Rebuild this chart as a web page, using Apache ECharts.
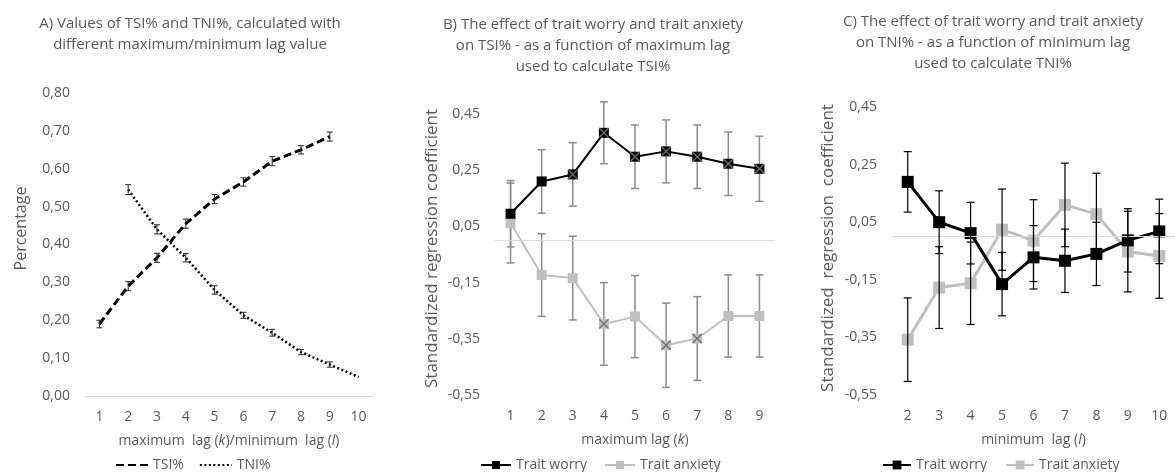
<!DOCTYPE html>
<html><head><meta charset="utf-8">
<script src="https://cdn.jsdelivr.net/npm/echarts/dist/echarts.min.js"></script>
<style>html,body{margin:0;padding:0;background:#fff}#c{width:1175px;height:472px}</style>
</head><body><div id="c"></div>
<script>
// ---- Panel A data ----
const catsA = ['1','2','3','4','5','6','7','8','9','10'];
const tsi    = [0.19, 0.29, 0.365, 0.455, 0.52, 0.565, 0.62, 0.65, 0.685, null];
const tsiErr = [0.010, 0.012, 0.012, 0.012, 0.012, 0.011, 0.012, 0.011, 0.012, null];
const tni    = [null, 0.545, 0.44, 0.365, 0.28, 0.213, 0.167, 0.116, 0.083, 0.05];
const tniErr = [null, 0.013, 0.012, 0.011, 0.011, 0.008, 0.009, 0.007, 0.007, null];
const ticksA = {min: 0, max: 0.8, interval: 0.1};

// ---- Panel B data ----
const catsB = ['1','2','3','4','5','6','7','8','9'];
const worryB    = [0.095, 0.21, 0.235, 0.383, 0.298, 0.317, 0.298, 0.273, 0.255];
const worryBErr = [0.118, 0.113, 0.113, 0.11, 0.113, 0.112, 0.113, 0.113, 0.116];
const anxB      = [0.062, -0.123, -0.134, -0.297, -0.271, -0.373, -0.349, -0.269, -0.269];
const anxBErr   = [0.142, 0.147, 0.149, 0.147, 0.146, 0.15, 0.149, 0.146, 0.146];
const markB_worry = [0,0,1,1,1,1,1,1,1];
const markB_anx   = [0,0,0,1,0,1,1,0,0];

// ---- Panel C data ----
const catsC = ['2','3','4','5','6','7','8','9','10'];
const worryC    = [0.19, 0.05, 0.012, -0.165, -0.072, -0.084, -0.06, -0.013, 0.018];
const worryCErr = [0.105, 0.109, 0.107, 0.11, 0.11, 0.11, 0.11, 0.11, 0.112];
const anxC      = [-0.358, -0.177, -0.162, 0.024, -0.014, 0.11, 0.078, -0.052, -0.067];
const anxCErr   = [0.145, 0.142, 0.143, 0.141, 0.142, 0.145, 0.142, 0.14, 0.147];
const ticksBC = {min: -0.55, max: 0.45, interval: 0.2};

const FONT = 'Open Sans';
const GREY = '#595959';
const fmt = v => v.toFixed(2).replace('.', ',');

function errData(vals, errs){
  const out = [];
  vals.forEach((v,i)=>{ if(v!=null && errs[i]!=null) out.push([i, v-errs[i], v+errs[i]]); });
  return out;
}
function markData(vals, flags){
  return vals.map((v,i)=> flags[i] ? [i, v] : [i, null]);
}
function errItem(color, capW, lw){
  return function(params, api){
    const x = api.value(0), lo = api.value(1), hi = api.value(2);
    const p1 = api.coord([x, hi]), p2 = api.coord([x, lo]);
    const st = {stroke: color, lineWidth: lw, fill: null};
    return {type:'group', children:[
      {type:'line', shape:{x1:p1[0],y1:p1[1],x2:p2[0],y2:p2[1]}, style:st},
      {type:'line', shape:{x1:p1[0]-capW,y1:p1[1],x2:p1[0]+capW,y2:p1[1]}, style:st},
      {type:'line', shape:{x1:p2[0]-capW,y1:p2[1],x2:p2[0]+capW,y2:p2[1]}, style:st}
    ]};
  };
}
const tickLabel = {color: GREY, fontFamily: FONT, fontSize: 14};
const nameRich = {
  n: {color: GREY, fontFamily: FONT, fontSize: 14},
  i: {color: GREY, fontFamily: FONT, fontSize: 14, fontStyle: 'italic'}
};
function xCat(gi, data, name, showLine){
  return {type:'category', gridIndex: gi, data: data, boundaryGap: true,
    axisTick:{show:false}, axisLine:{show: showLine, lineStyle:{color:'#d9d9d9'}},
    axisLabel: Object.assign({margin: 14}, tickLabel),
    name: name, nameLocation:'middle', nameGap: 38,
    nameTextStyle:{rich: nameRich}};
}
function yVal(gi, t, name, fs, pad, gap){
  return {type:'value', gridIndex: gi, min: t.min, max: t.max, interval: t.interval,
    splitLine:{show:false}, axisLine:{show:false}, axisTick:{show:false},
    axisLabel: Object.assign({formatter: fmt, margin: 15}, tickLabel),
    name: name, nameLocation:'middle', nameGap: gap,
    nameTextStyle:{color: GREY, fontFamily: FONT, fontSize: fs, padding: pad}};
}
const zeroLine = {silent:true, symbol:['none','none'], label:{show:false},
  lineStyle:{color:'#d9d9d9', type:'solid', width:1}, data:[{yAxis:0}]};
const xPath = 'path://M0,0L10,10M10,0L0,10';

const titleStyle = {color: GREY, fontFamily: FONT, fontSize: 15, fontWeight: 'normal', lineHeight: 21};
const legendText = {color: GREY, fontFamily: FONT, fontSize: 14};

const option = {
  animation: false,
  backgroundColor: '#fff',
  title: [
    {text: 'A) Values of TSI% and TNI%, calculated with\ndifferent maximum/minimum lag value', left: 185, top: 8, textAlign:'center', textStyle: titleStyle},
    {text: 'B) The effect of trait worry and trait anxiety\non TSI% - as a function of maximum lag\nused to calculate TSI%', left: 588, top: 9, textAlign:'center', textStyle: titleStyle},
    {text: 'C) The effect of trait worry and trait anxiety\non TNI% - as a function of minimum lag\nused to calculate TNI%', left: 988, top: 6, textAlign:'center', textStyle: titleStyle}
  ],
  legend: [
    {data:['TSI%','TNI%'], left: 110, top: 453, itemWidth: 32, itemHeight: 12, itemGap: 15, textStyle: legendText,
      itemStyle:{color:'transparent', borderWidth:0, opacity:0}},
    {data:['Trait worry','Trait anxiety'], left: 475, top: 453, itemWidth: 30, itemHeight: 10, itemGap: 17, textStyle: legendText},
    {data:['Trait worry ','Trait anxiety '], left: 877, top: 453, itemWidth: 28, itemHeight: 11, itemGap: 18, textStyle: legendText,
      formatter: n => n.trim()}
  ],
  grid: [
    {left: 85, top: 93, width: 288, height: 303},
    {left: 495, top: 114, width: 280, height: 281},
    {left: 892, top: 107, width: 283, height: 288}
  ],
  xAxis: [
    xCat(0, catsA, '{n|maximum  lag (}{i|k}{n|)/minimum  lag (}{i|l}{n|)}', true),
    xCat(1, catsB, '{n|maximum lag (}{i|k}{n|)}', false),
    xCat(2, catsC, '{n|minimum  lag (}{i|l}{n|)}', false)
  ],
  yAxis: [
    yVal(0, ticksA, 'Percentage', 16, [0,0,0,32], 56),
    yVal(1, ticksBC, 'Standardized regression coefficient', 17, [0,0,0,12], 54),
    yVal(2, ticksBC, 'Standardized  regression  coefficient', 17, [0,0,0,6], 55)
  ],
  series: [
    // Panel A
    {name:'errA1', type:'custom', xAxisIndex:0, yAxisIndex:0, renderItem: errItem('#262626', 3, 1), data: errData(tsi, tsiErr), z: 4},
    {name:'errA2', type:'custom', xAxisIndex:0, yAxisIndex:0, renderItem: errItem('#262626', 3, 1), data: errData(tni, tniErr), z: 4},
    {name:'TSI%', type:'line', xAxisIndex:0, yAxisIndex:0, data: tsi, symbol:'none', color:'#000',
      lineStyle:{color:'#000', width:3, type:[8,4]}, z: 3},
    {name:'TNI%', type:'line', xAxisIndex:0, yAxisIndex:0, data: tni, symbol:'none', color:'#000',
      lineStyle:{color:'#000', width:2.5, type:[2,2.5]}, z: 3},
    // Panel B
    {name:'errB1', type:'custom', xAxisIndex:1, yAxisIndex:1, renderItem: errItem('#8c8c8c', 4, 1.5), data: errData(worryB, worryBErr), z: 2},
    {name:'errB2', type:'custom', xAxisIndex:1, yAxisIndex:1, renderItem: errItem('#8c8c8c', 4, 1.5), data: errData(anxB, anxBErr), z: 2},
    {name:'Trait anxiety', type:'line', xAxisIndex:1, yAxisIndex:1, data: anxB, symbol:'rect', symbolSize: 10, color:'#bfbfbf',
      lineStyle:{color:'#bfbfbf', width:2}, itemStyle:{color:'#bfbfbf'}, z: 3, markLine: zeroLine},
    {name:'Trait worry', type:'line', xAxisIndex:1, yAxisIndex:1, data: worryB, symbol:'rect', symbolSize: 10, color:'#000',
      lineStyle:{color:'#000', width:2}, itemStyle:{color:'#000'}, z: 4},
    {name:'markB1', type:'scatter', xAxisIndex:1, yAxisIndex:1, data: markData(worryB, markB_worry), symbol: xPath, symbolSize: 9,
      itemStyle:{color:'transparent', borderColor:'#8c8c8c', borderWidth:1.3}, z: 5},
    {name:'markB2', type:'scatter', xAxisIndex:1, yAxisIndex:1, data: markData(anxB, markB_anx), symbol: xPath, symbolSize: 9,
      itemStyle:{color:'transparent', borderColor:'#595959', borderWidth:1.3}, z: 5},
    // Panel C
    {name:'errC1', type:'custom', xAxisIndex:2, yAxisIndex:2, renderItem: errItem('#000', 4, 1.2), data: errData(worryC, worryCErr), z: 5},
    {name:'errC2', type:'custom', xAxisIndex:2, yAxisIndex:2, renderItem: errItem('#000', 4, 1.2), data: errData(anxC, anxCErr), z: 5},
    {name:'Trait anxiety ', type:'line', xAxisIndex:2, yAxisIndex:2, data: anxC, symbol:'rect', symbolSize: 12, color:'#bfbfbf',
      lineStyle:{color:'#bfbfbf', width:3}, itemStyle:{color:'#bfbfbf'}, z: 3, markLine: zeroLine},
    {name:'Trait worry ', type:'line', xAxisIndex:2, yAxisIndex:2, data: worryC, symbol:'rect', symbolSize: 12, color:'#000',
      lineStyle:{color:'#000', width:3}, itemStyle:{color:'#000'}, z: 4}
  ]
};
const chart = echarts.init(document.getElementById('c'), null, {renderer:'canvas'});
chart.setOption(option);
</script>
</body></html>
